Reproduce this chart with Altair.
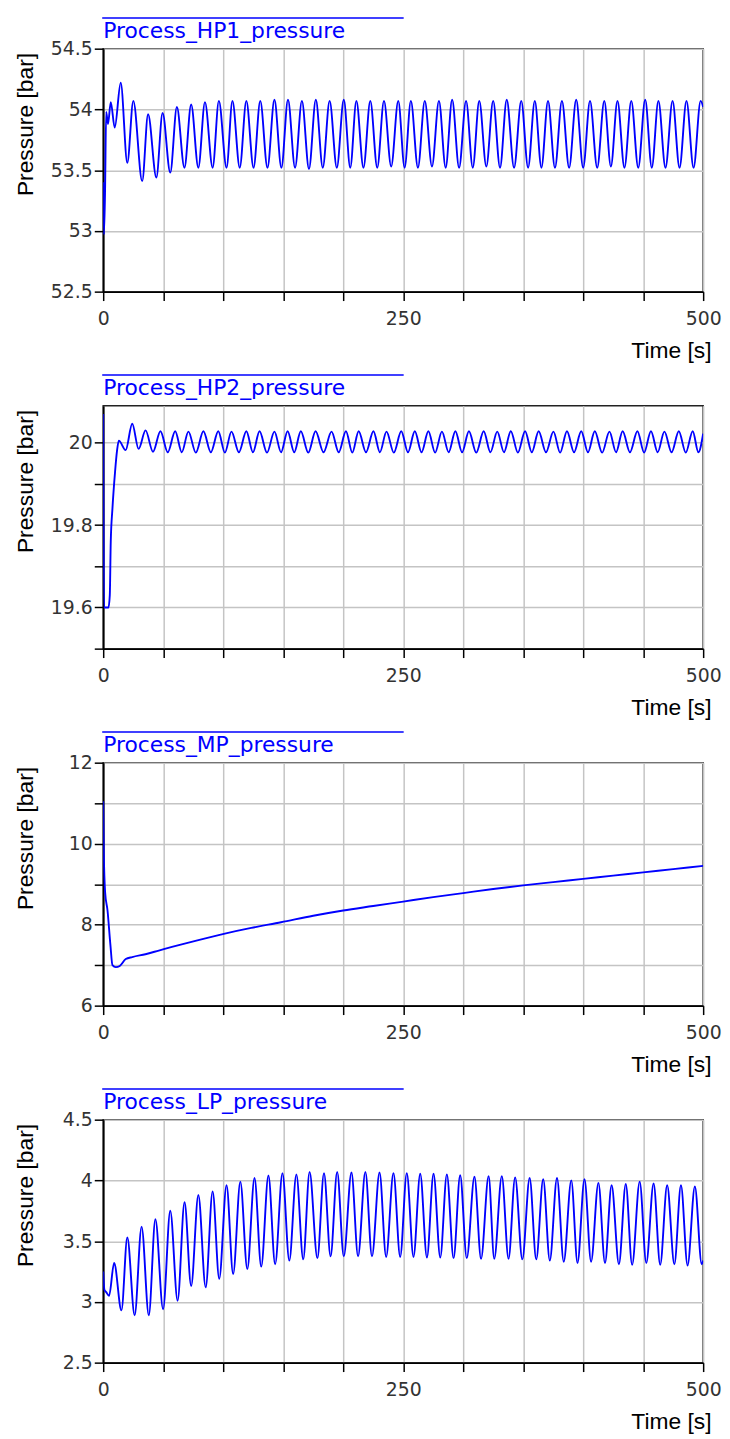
import altair as alt
import pandas as pd

# ---------------- data ----------------
hp1_time = [0, 0.6, 1.5, 2.5, 4.0, 6.3, 9.6, 14.6, 20.1, 25.1, 32.5, 37.4, 44.3, 49.5,
            55.9, 61.4, 67.7, 73.3, 79.3, 84.8, 91.2, 96.4, 102.8, 107.7, 113.8, 119.3,
            125.3, 130.9, 136.9, 142.7, 148.5, 154.0, 159.9, 165.6, 171.5, 177.2, 183.0,
            188.7, 194.7, 200.5, 205.9, 211.0, 216.9, 222.6, 228.4, 234.0, 240.0, 245.9,
            251.2, 256.4, 262.3, 268.0, 274.0, 279.8, 285.4, 290.8, 296.6, 302.4, 308.0,
            313.4, 319.3, 325.0, 330.7, 336.3, 342.4, 348.4, 354.1, 359.7, 365.2, 370.7,
            376.5, 382.3, 388.3, 394.2, 400.0, 405.7, 411.7, 417.6, 423.1, 428.6, 434.4,
            440.1, 445.9, 451.7, 457.2, 462.7, 468.6, 474.5, 480.3, 486.1, 492.0, 497.9,
            500.0]
hp1_pressure = [53.40, 52.97, 53.30, 53.98, 53.88, 54.06, 53.85, 54.22, 53.56, 54.07, 53.41,
                53.96, 53.44, 53.97, 53.48, 54.02, 53.52, 54.04, 53.52, 54.06, 53.52, 54.07,
                53.52, 54.07, 53.52, 54.07, 53.52, 54.07, 53.52, 54.08, 53.52, 54.08, 53.52,
                54.07, 53.51, 54.08, 53.52, 54.07, 53.52, 54.08, 53.52, 54.07, 53.52, 54.07,
                53.52, 54.07, 53.53, 54.07, 53.52, 54.07, 53.52, 54.07, 53.53, 54.07, 53.52,
                54.08, 53.52, 54.07, 53.52, 54.07, 53.53, 54.07, 53.52, 54.08, 53.52, 54.07,
                53.52, 54.07, 53.52, 54.07, 53.52, 54.07, 53.52, 54.08, 53.52, 54.07, 53.52,
                54.07, 53.53, 54.07, 53.52, 54.07, 53.52, 54.08, 53.52, 54.07, 53.52, 54.07,
                53.52, 54.07, 53.52, 54.07, 54.02]

hp2_time = [0, 0.7, 4.4, 5.5, 6.3, 7.7, 9.9, 11.5, 13.0, 18.7, 24.2, 29.5, 35.3, 41.5,
            47.7, 53.8, 60.0, 65.5, 71.0, 77.2, 83.5, 89.7, 95.9, 101.4, 106.9, 113.1,
            119.3, 124.8, 130.3, 136.5, 142.7, 148.2, 153.7, 159.2, 164.7, 170.9, 177.0,
            183.6, 190.3, 196.3, 202.3, 207.6, 212.9, 219.0, 225.2, 230.6, 236.1, 242.2,
            248.4, 254.0, 259.7, 265.3, 271.0, 276.6, 282.3, 287.9, 293.5, 299.1, 304.8,
            310.9, 317.1, 322.7, 328.4, 334.0, 339.7, 345.6, 351.6, 357.2, 362.9, 369.0,
            375.2, 380.8, 386.5, 392.4, 398.4, 404.0, 409.7, 415.8, 421.9, 427.4, 432.9,
            439.0, 445.2, 450.8, 456.5, 462.1, 467.7, 473.7, 479.7, 485.5, 491.3, 496.0,
            500.0]
hp2_pressure = [20.07, 19.60, 19.60, 19.63, 19.76, 19.84, 19.93, 19.98, 20.005, 19.982,
                20.046, 19.985, 20.030, 19.978, 20.028, 19.977, 20.028, 19.977, 20.027,
                19.976, 20.028, 19.977, 20.028, 19.976, 20.027, 19.977, 20.028, 19.977,
                20.028, 19.976, 20.027, 19.977, 20.028, 19.977, 20.028, 19.976, 20.028,
                19.977, 20.027, 19.977, 20.028, 19.976, 20.028, 19.977, 20.028, 19.977,
                20.027, 19.976, 20.028, 19.977, 20.028, 19.977, 20.028, 19.976, 20.027,
                19.977, 20.028, 19.977, 20.028, 19.976, 20.028, 19.977, 20.027, 19.977,
                20.028, 19.976, 20.028, 19.977, 20.028, 19.977, 20.027, 19.976, 20.028,
                19.977, 20.028, 19.977, 20.028, 19.976, 20.027, 19.977, 20.028, 19.977,
                20.028, 19.976, 20.028, 19.977, 20.027, 19.977, 20.028, 19.976, 20.028,
                19.977, 20.022]

mp_time = [0, 0.5, 1.6, 3.6, 6.0, 7.7, 10.5, 13.8, 18.8, 24.2, 35.2, 46.3, 57.3, 79.3,
           101.4, 123.4, 148.2, 175, 200, 225, 250, 275, 300, 325, 350, 375, 400, 425,
           450, 475, 500]
mp_pressure = [11.05, 9.80, 8.80, 8.35, 7.50, 7.00, 6.95, 6.98, 7.15, 7.20, 7.27, 7.36,
               7.45, 7.62, 7.78, 7.92, 8.06, 8.22, 8.35, 8.46, 8.57, 8.68, 8.78, 8.88,
               8.97, 9.05, 9.13, 9.21, 9.29, 9.37, 9.45]

lp_time = [0, 1.0, 2.5, 4.9, 9.1, 15.2, 20.1, 26.2, 32.0, 38.0, 43.5, 49.9, 55.9, 62.0,
           67.8, 73.3, 79.3, 85.4, 91.2, 96.7, 102.8, 108.3, 114.3, 120.1, 126.1, 131.7,
           137.7, 143.3, 149.4, 155.1, 161.0, 166.7, 172.0, 178.5, 184.0, 189.5, 195.0,
           200.5, 206.9, 212.4, 218.5, 224.0, 230.3, 235.8, 241.9, 247.5, 253.0, 258.6,
           264.2, 269.8, 275.3, 280.9, 286.4, 292.0, 297.5, 303.0, 309.4, 314.9, 321.2,
           325.9, 332.2, 337.8, 343.3, 349.3, 355.4, 360.9, 366.7, 372.2, 378.2, 383.8,
           390.1, 395.3, 401.1, 406.6, 412.7, 418.2, 423.7, 429.8, 435.5, 440.8, 447.1,
           452.6, 458.7, 464.2, 470.0, 476.0, 481.5, 487.0, 493.1, 498.8, 500.0]
lp_pressure = [3.25, 3.10, 3.08, 3.05, 3.32, 2.93, 3.53, 2.89, 3.62, 2.89, 3.68, 2.94,
               3.75, 3.01, 3.82, 3.13, 3.88, 3.12, 3.91, 3.19, 3.96, 3.23, 3.99, 3.27,
               4.02, 3.29, 4.04, 3.31, 4.06, 3.34, 4.05, 3.35, 4.07, 3.36, 4.06, 3.375,
               4.07, 3.375, 4.065, 3.375, 4.07, 3.375, 4.065, 3.37, 4.06, 3.37, 4.06,
               3.37, 4.055, 3.365, 4.055, 3.365, 4.05, 3.36, 4.043, 3.36, 4.03, 3.354,
               4.035, 3.354, 4.035, 3.354, 4.025, 3.35, 4.02, 3.35, 4.01, 3.34, 4.02,
               3.33, 4.00, 3.32, 4.01, 3.33, 3.98, 3.32, 3.96, 3.31, 3.97, 3.305, 3.99,
               3.32, 3.975, 3.305, 3.96, 3.31, 3.96, 3.30, 3.95, 3.31, 3.34]

series_names = ["Process_HP1_pressure", "Process_HP2_pressure",
                "Process_MP_pressure", "Process_LP_pressure"]
y_domains = [[52.5, 54.5], [19.5, 20.09], [6, 12], [2.5, 4.5]]
y_tick_values = [[52.5, 53, 53.5, 54, 54.5],
                 [19.5, 19.6, 19.7, 19.8, 19.9, 20.0],
                 [6, 7, 8, 9, 10, 11, 12],
                 [2.5, 3, 3.5, 4, 4.5]]
y_tick_labels = [[52.5, 53, 53.5, 54, 54.5],
                 [19.6, 19.8, 20.0],
                 [6, 8, 10, 12],
                 [2.5, 3, 3.5, 4, 4.5]]
x_tick_values = [0, 50, 100, 150, 200, 250, 300, 350, 400, 450, 500]
x_tick_labels = [0, 250, 500]

series = [(hp1_time, hp1_pressure), (hp2_time, hp2_pressure),
          (mp_time, mp_pressure), (lp_time, lp_pressure)]

BLUE = "#0000ff"
W, H = 605, 245


def label_expr(labels):
    cond = " || ".join(f"datum.value == {v}" for v in labels)
    return f"({cond}) ? format(datum.value, '~g') : ''"


panels = []
for name, (tt, pp), dom, yv, yl in zip(series_names, series, y_domains,
                                       y_tick_values, y_tick_labels):
    df = pd.DataFrame({"t": tt, "p": pp})
    x = alt.X("t:Q",
              scale=alt.Scale(domain=[0, 500], nice=False, zero=False),
              axis=alt.Axis(values=x_tick_values, labelExpr=label_expr(x_tick_labels),
                            title="Time [s]", titleX=613, titleY=66.5,
                            titleAlign="right", titleBaseline="alphabetic",
                            labelPadding=9, labelFlush=False, labelOverlap=False))
    y = alt.Y("p:Q",
              scale=alt.Scale(domain=dom, nice=False, zero=False),
              axis=alt.Axis(values=yv, labelExpr=label_expr(yl),
                            title="Pressure [bar]", titleX=-71, titleY=76,
                            titleAngle=270, titleAlign="center",
                            titleBaseline="alphabetic",
                            labelPadding=2, labelFlush=False, labelOverlap=False))
    line = alt.Chart(df).mark_line(color=BLUE, strokeWidth=1.9, clip=True,
                                   interpolate="monotone").encode(x=x, y=y)
    lab = pd.DataFrame({"label": [name]})
    rule = alt.Chart(lab).mark_rule(color=BLUE, strokeWidth=1.5).encode(
        x=alt.value(-1), x2=alt.value(303), y=alt.value(-31))
    text = alt.Chart(lab).mark_text(align="left", baseline="alphabetic", color=BLUE,
                                    font="DejaVu Sans", fontSize=22).encode(
        x=alt.value(0), y=alt.value(-11), text="label:N")
    panels.append(alt.layer(line, rule, text).properties(width=W, height=H))

chart = alt.vconcat(*panels, spacing=115, bounds="flush").properties(
    padding={"left": 6, "top": 2, "right": 0, "bottom": 0},
    background="white",
).configure_view(
    stroke="#222222", strokeWidth=1.5
).configure_axis(
    domainColor="#000000", domainWidth=1.8,
    tickColor="#000000", tickWidth=1.5, tickSize=9,
    gridColor="#c4c4c4", gridWidth=1.5,
    labelFont="DejaVu Sans", labelFontSize=19, labelColor="#333333",
    titleFont="Liberation Sans", titleFontSize=23, titleFontWeight="normal",
    titleColor="#000000",
)

chart.save("out.html", embed_options={"renderer": "svg", "actions": False})
